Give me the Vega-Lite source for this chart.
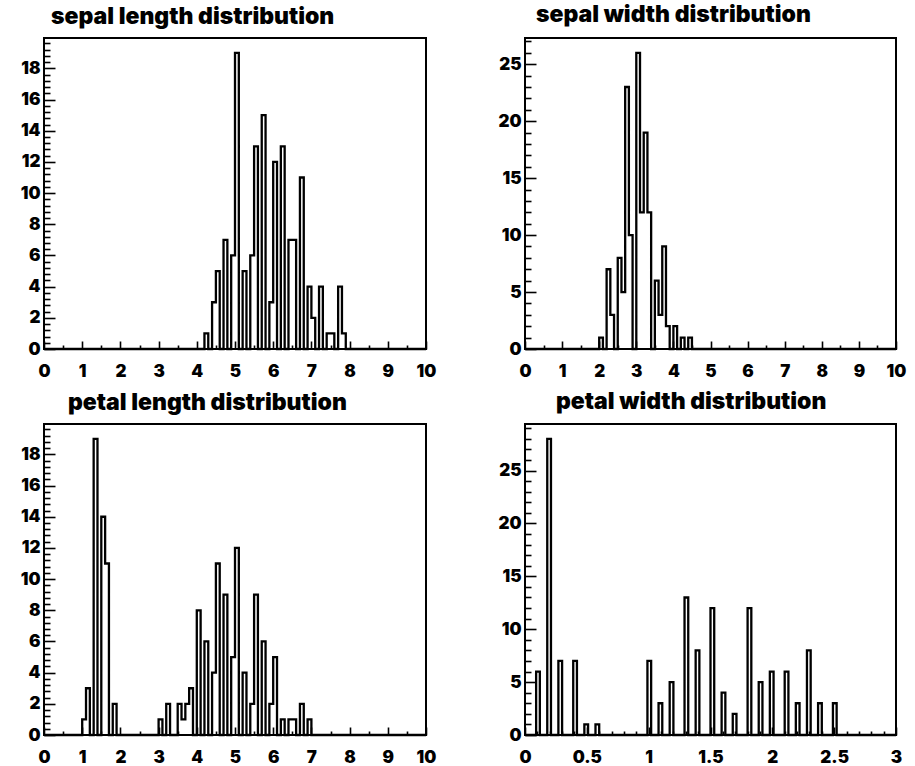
{
  "$schema": "https://vega.github.io/schema/vega-lite/v6.json",
  "background": "white",
  "padding": {"left": 19, "top": 3, "right": 5, "bottom": 2},
  "bounds": "flush",
  "columns": 2,
  "spacing": {"row": 75, "column": 99},
  "config": {
    "view": {"stroke": "black", "strokeWidth": 2},
    "axis": {"labelFont": "Inter", "labelFontSize": 17, "labelFontWeight": 900, "labelColor": "black", "tickColor": "black", "tickWidth": 1.6, "grid": false, "domain": false, "title": null, "labelOverlap": false, "labelFlush": false, "format": "~g"},
    "title": {"font": "Inter", "fontSize": 23, "fontWeight": 900, "color": "black", "anchor": "start", "frame": "group", "offset": 5},
    "line": {"color": "black", "strokeWidth": 2.3, "interpolate": "step-after"}
  },
  "datasets": {
    "sl": [{"x":0,"n":0},{"x":4.2,"n":1},{"x":4.3,"n":0},{"x":4.4,"n":3},{"x":4.5,"n":5},{"x":4.6,"n":0},{"x":4.7,"n":7},{"x":4.8,"n":0},{"x":4.9,"n":6},{"x":5.0,"n":19},{"x":5.1,"n":0},{"x":5.2,"n":5},{"x":5.3,"n":0},{"x":5.4,"n":6},{"x":5.5,"n":13},{"x":5.6,"n":0},{"x":5.7,"n":15},{"x":5.8,"n":0},{"x":5.9,"n":3},{"x":6.0,"n":12},{"x":6.1,"n":0},{"x":6.2,"n":13},{"x":6.3,"n":0},{"x":6.4,"n":7},{"x":6.5,"n":7},{"x":6.6,"n":0},{"x":6.7,"n":11},{"x":6.8,"n":0},{"x":6.9,"n":4},{"x":7.0,"n":2},{"x":7.1,"n":0},{"x":7.2,"n":4},{"x":7.3,"n":0},{"x":7.4,"n":1},{"x":7.5,"n":1},{"x":7.6,"n":0},{"x":7.7,"n":4},{"x":7.8,"n":1},{"x":7.9,"n":0},{"x":10,"n":0}],
    "sw": [{"x":0,"n":0},{"x":2.0,"n":1},{"x":2.1,"n":0},{"x":2.2,"n":7},{"x":2.3,"n":3},{"x":2.4,"n":0},{"x":2.5,"n":8},{"x":2.6,"n":5},{"x":2.7,"n":23},{"x":2.8,"n":10},{"x":2.9,"n":0},{"x":3.0,"n":26},{"x":3.1,"n":12},{"x":3.2,"n":19},{"x":3.3,"n":12},{"x":3.4,"n":0},{"x":3.5,"n":6},{"x":3.6,"n":3},{"x":3.7,"n":9},{"x":3.8,"n":2},{"x":3.9,"n":0},{"x":4.0,"n":2},{"x":4.1,"n":0},{"x":4.2,"n":1},{"x":4.3,"n":0},{"x":4.4,"n":1},{"x":4.5,"n":0},{"x":10,"n":0}],
    "pl": [{"x":0,"n":0},{"x":1.0,"n":1},{"x":1.1,"n":3},{"x":1.2,"n":0},{"x":1.3,"n":19},{"x":1.4,"n":0},{"x":1.5,"n":14},{"x":1.6,"n":11},{"x":1.7,"n":0},{"x":1.8,"n":2},{"x":1.9,"n":0},{"x":3.0,"n":1},{"x":3.1,"n":0},{"x":3.2,"n":2},{"x":3.3,"n":0},{"x":3.5,"n":2},{"x":3.6,"n":1},{"x":3.7,"n":2},{"x":3.8,"n":3},{"x":3.9,"n":0},{"x":4.0,"n":8},{"x":4.1,"n":0},{"x":4.2,"n":6},{"x":4.3,"n":0},{"x":4.4,"n":4},{"x":4.5,"n":11},{"x":4.6,"n":0},{"x":4.7,"n":9},{"x":4.8,"n":0},{"x":4.9,"n":5},{"x":5.0,"n":12},{"x":5.1,"n":0},{"x":5.2,"n":4},{"x":5.3,"n":0},{"x":5.4,"n":2},{"x":5.5,"n":9},{"x":5.6,"n":0},{"x":5.7,"n":6},{"x":5.8,"n":0},{"x":5.9,"n":2},{"x":6.0,"n":5},{"x":6.1,"n":0},{"x":6.2,"n":1},{"x":6.3,"n":0},{"x":6.4,"n":1},{"x":6.5,"n":1},{"x":6.6,"n":0},{"x":6.7,"n":2},{"x":6.8,"n":0},{"x":6.9,"n":1},{"x":7.0,"n":0},{"x":10,"n":0}],
    "pw": [{"x":0,"n":0},{"x":0.09,"n":6},{"x":0.12,"n":0},{"x":0.18,"n":28},{"x":0.21,"n":0},{"x":0.27,"n":7},{"x":0.30,"n":0},{"x":0.39,"n":7},{"x":0.42,"n":0},{"x":0.48,"n":1},{"x":0.51,"n":0},{"x":0.57,"n":1},{"x":0.60,"n":0},{"x":0.99,"n":7},{"x":1.02,"n":0},{"x":1.08,"n":3},{"x":1.11,"n":0},{"x":1.17,"n":5},{"x":1.20,"n":0},{"x":1.29,"n":13},{"x":1.32,"n":0},{"x":1.38,"n":8},{"x":1.41,"n":0},{"x":1.50,"n":12},{"x":1.53,"n":0},{"x":1.59,"n":4},{"x":1.62,"n":0},{"x":1.68,"n":2},{"x":1.71,"n":0},{"x":1.80,"n":12},{"x":1.83,"n":0},{"x":1.89,"n":5},{"x":1.92,"n":0},{"x":1.98,"n":6},{"x":2.01,"n":0},{"x":2.10,"n":6},{"x":2.13,"n":0},{"x":2.19,"n":3},{"x":2.22,"n":0},{"x":2.28,"n":8},{"x":2.31,"n":0},{"x":2.37,"n":3},{"x":2.40,"n":0},{"x":2.49,"n":3},{"x":2.52,"n":0},{"x":3,"n":0}]
  },
  "concat": [
    {
      "width": 382, "height": 311,
      "title": {"text": "sepal length distribution", "dx": 7, "frame": "group", "anchor": "start"},
      "data": {"name": "sl"},
      "mark": {"type": "line"},
      "encoding": {
        "x": {"field": "x", "type": "quantitative", "scale": {"domain": [0, 10], "nice": false, "zero": false},
          "axis": {"values": [0,0.5,1,1.5,2,2.5,3,3.5,4,4.5,5,5.5,6,6.5,7,7.5,8,8.5,9,9.5,10], "labelExpr": "abs(datum.value - round(datum.value)) < 0.001 ? datum.label : ''", "tickSize": -8, "labelPadding": 22, "tickDash": {"condition": {"test": "abs(datum.value - round(datum.value)) > 0.001", "value": [4, 40]}, "value": [40, 1]}}},
        "y": {"field": "n", "type": "quantitative", "scale": {"domain": [0, 19.95], "nice": false},
          "axis": {"values": [0,0.4,0.8,1.2,1.6,2,2.4,2.8,3.2,3.6,4,4.4,4.8,5.2,5.6,6,6.4,6.8,7.2,7.6,8,8.4,8.8,9.2,9.6,10,10.4,10.8,11.2,11.6,12,12.4,12.8,13.2,13.6,14,14.4,14.8,15.2,15.6,16,16.4,16.8,17.2,17.6,18,18.4,18.8,19.2,19.6], "labelExpr": "abs(datum.value/2 - round(datum.value/2)) < 0.001 ? datum.label : ''", "tickSize": -11, "labelPadding": 15, "tickDash": {"condition": {"test": "abs(datum.value/2 - round(datum.value/2)) > 0.001", "value": [6, 40]}, "value": [40, 1]}}}
      }
    },
    {
      "width": 371, "height": 311,
      "title": {"text": "sepal width distribution", "dx": 11, "frame": "group", "anchor": "start"},
      "data": {"name": "sw"},
      "mark": {"type": "line"},
      "encoding": {
        "x": {"field": "x", "type": "quantitative", "scale": {"domain": [0, 10], "nice": false, "zero": false},
          "axis": {"values": [0,0.5,1,1.5,2,2.5,3,3.5,4,4.5,5,5.5,6,6.5,7,7.5,8,8.5,9,9.5,10], "labelExpr": "abs(datum.value - round(datum.value)) < 0.001 ? datum.label : ''", "tickSize": -8, "labelPadding": 22, "tickDash": {"condition": {"test": "abs(datum.value - round(datum.value)) > 0.001", "value": [4, 40]}, "value": [40, 1]}}},
        "y": {"field": "n", "type": "quantitative", "scale": {"domain": [0, 27.3], "nice": false},
          "axis": {"values": [0,1,2,3,4,5,6,7,8,9,10,11,12,13,14,15,16,17,18,19,20,21,22,23,24,25,26,27], "labelExpr": "abs(datum.value/5 - round(datum.value/5)) < 0.001 ? datum.label : ''", "tickSize": -11, "labelPadding": 15, "tickDash": {"condition": {"test": "abs(datum.value/5 - round(datum.value/5)) > 0.001", "value": [6, 40]}, "value": [40, 1]}}}
      }
    },
    {
      "width": 382, "height": 311,
      "title": {"text": "petal length distribution", "dx": 24, "frame": "group", "anchor": "start"},
      "data": {"name": "pl"},
      "mark": {"type": "line"},
      "encoding": {
        "x": {"field": "x", "type": "quantitative", "scale": {"domain": [0, 10], "nice": false, "zero": false},
          "axis": {"values": [0,0.5,1,1.5,2,2.5,3,3.5,4,4.5,5,5.5,6,6.5,7,7.5,8,8.5,9,9.5,10], "labelExpr": "abs(datum.value - round(datum.value)) < 0.001 ? datum.label : ''", "tickSize": -8, "labelPadding": 22, "tickDash": {"condition": {"test": "abs(datum.value - round(datum.value)) > 0.001", "value": [4, 40]}, "value": [40, 1]}}},
        "y": {"field": "n", "type": "quantitative", "scale": {"domain": [0, 19.95], "nice": false},
          "axis": {"values": [0,0.4,0.8,1.2,1.6,2,2.4,2.8,3.2,3.6,4,4.4,4.8,5.2,5.6,6,6.4,6.8,7.2,7.6,8,8.4,8.8,9.2,9.6,10,10.4,10.8,11.2,11.6,12,12.4,12.8,13.2,13.6,14,14.4,14.8,15.2,15.6,16,16.4,16.8,17.2,17.6,18,18.4,18.8,19.2,19.6], "labelExpr": "abs(datum.value/2 - round(datum.value/2)) < 0.001 ? datum.label : ''", "tickSize": -11, "labelPadding": 15, "tickDash": {"condition": {"test": "abs(datum.value/2 - round(datum.value/2)) > 0.001", "value": [6, 40]}, "value": [40, 1]}}}
      }
    },
    {
      "width": 371, "height": 311,
      "title": {"text": "petal width distribution", "dx": 31, "frame": "group", "anchor": "start"},
      "data": {"name": "pw"},
      "mark": {"type": "line"},
      "encoding": {
        "x": {"field": "x", "type": "quantitative", "scale": {"domain": [0, 3], "nice": false, "zero": false},
          "axis": {"values": [0,0.1,0.2,0.3,0.4,0.5,0.6,0.7,0.8,0.9,1,1.1,1.2,1.3,1.4,1.5,1.6,1.7,1.8,1.9,2,2.1,2.2,2.3,2.4,2.5,2.6,2.7,2.8,2.9,3], "labelExpr": "abs(datum.value/0.5 - round(datum.value/0.5)) < 0.001 ? datum.label : ''", "tickSize": -8, "labelPadding": 22, "tickDash": {"condition": {"test": "abs(datum.value/0.5 - round(datum.value/0.5)) > 0.001", "value": [4, 40]}, "value": [40, 1]}}},
        "y": {"field": "n", "type": "quantitative", "scale": {"domain": [0, 29.4], "nice": false},
          "axis": {"values": [0,1,2,3,4,5,6,7,8,9,10,11,12,13,14,15,16,17,18,19,20,21,22,23,24,25,26,27,28,29], "labelExpr": "abs(datum.value/5 - round(datum.value/5)) < 0.001 ? datum.label : ''", "tickSize": -11, "labelPadding": 15, "tickDash": {"condition": {"test": "abs(datum.value/5 - round(datum.value/5)) > 0.001", "value": [6, 40]}, "value": [40, 1]}}}
      }
    }
  ]
}
